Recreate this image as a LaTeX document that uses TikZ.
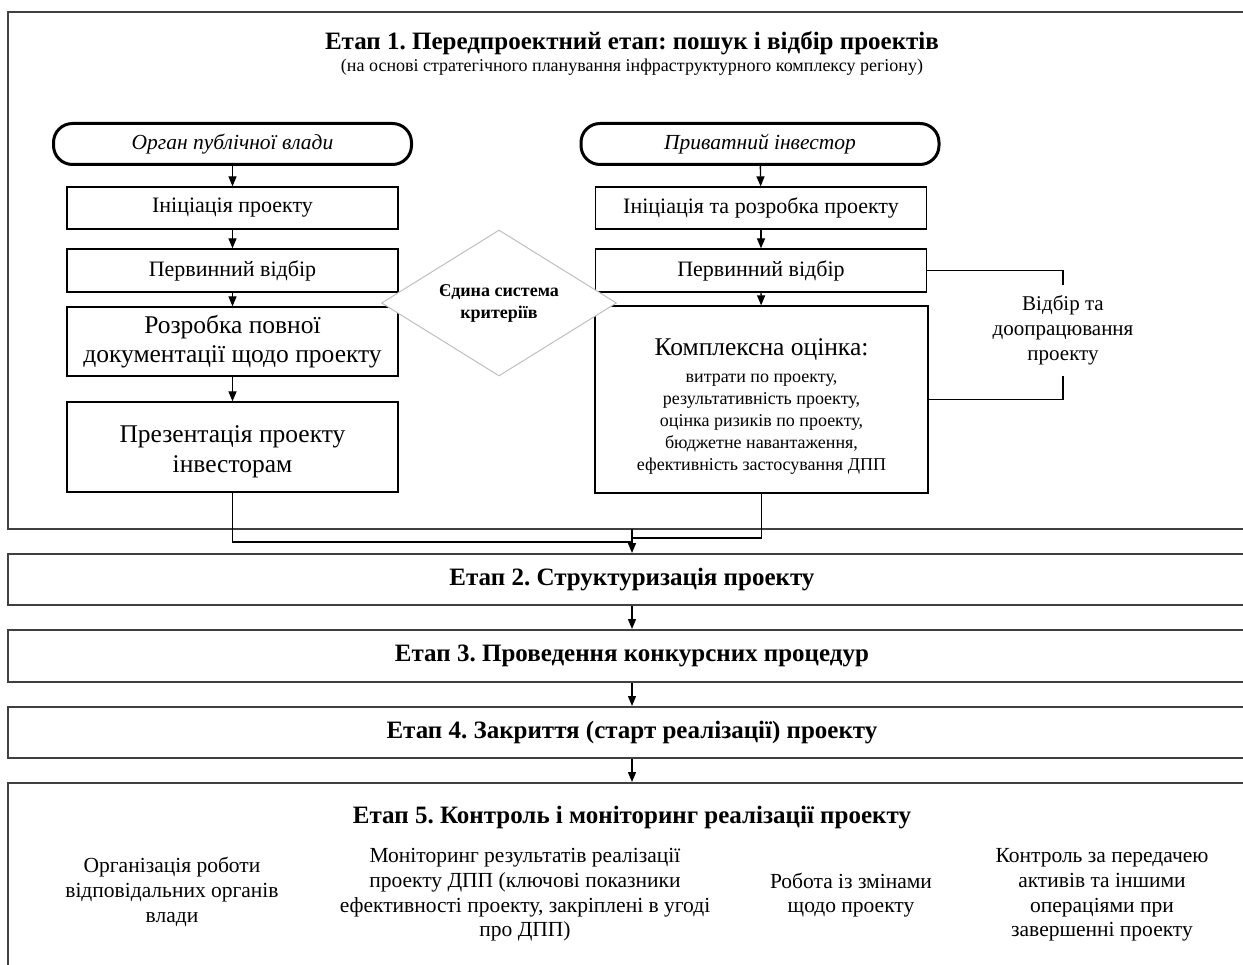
\documentclass[tikz,border=0pt]{standalone}
\usepackage{fontspec}
\setmainfont{Liberation Serif}
\usepackage{tikz}
\usetikzlibrary{arrows.meta,positioning,shapes.geometric}
\frenchspacing
\newcommand{\fs}[2]{\fontsize{#1}{#2}\selectfont}
\tikzset{
  stagebox/.style={draw=black!75,line width=2pt,minimum width=1248pt,
                   inner sep=0pt,align=center,font=\fs{25}{29}\bfseries},
  stagetitle/.style={align=center,font=\fs{25}{29}\bfseries},
  subtitle/.style={align=center,font=\fs{18}{21}},
  pill/.style={draw=black,line width=3pt,rounded corners=19pt,
               minimum width=358pt,minimum height=41pt,font=\fs{21.5}{25}\itshape},
  stepbox/.style={draw=black,line width=1.3pt,align=center,inner sep=0pt,
                  minimum width=331pt,font=\fs{22}{25}},
  bigbox/.style={stepbox,font=\fs{25.5}{29.5}},
  crit/.style={diamond,aspect=1.6,draw=black!25,fill=white,line width=1pt,
               inner sep=0pt,minimum width=235pt,minimum height=146pt,
               align=center,font=\fs{18}{22}\bfseries},
  sidenote/.style={align=center,inner sep=0pt,minimum height=91pt,
                   font=\fs{21}{25}},
  item/.style={align=center,font=\fs{21.5}{24.7}},
  flowarr/.style={-{Triangle[length=10pt,width=8pt]},line width=1.3pt},
  link/.style={line width=1.3pt}
}
\begin{document}
\begin{tikzpicture}[x=1pt,y=-1pt]
  \useasboundingbox (0,0) rectangle (1243,965);
  \clip (0,0) rectangle (1243,965);

  % stage 1
  \node[stagebox,minimum height=517pt] (st1) at (632,270.5) {};
  \node[stagetitle] (t1) at (632,43)
    {Етап 1. Передпроектний етап: пошук і відбір проектів};
  \node[subtitle] (t1sub) at (632,67)
    {(на основі стратегічного планування інфраструктурного комплексу регіону)};

  % public authority
  \node[pill] (pillL) at (232.5,144) {Орган публічної влади};
  \node[stepbox,minimum height=42pt] (initL) at (232.5,208) {Ініціація проекту};
  \node[stepbox,minimum height=43pt] (selL) at (232.5,270.5) {Первинний відбір};
  \node[bigbox,minimum height=69pt] (devL) at (232.5,341.5)
    {Розробка повної\\документації щодо проекту};
  \node[bigbox,minimum height=90pt] (presL) at (232.5,447)
    {\rule{0pt}{26pt}Презентація проекту\\інвесторам};
  \draw[flowarr] (pillL) -- (initL);
  \draw[flowarr] (initL) -- (selL);
  \draw[flowarr] (selL) -- (devL);
  \draw[flowarr] (devL) -- (presL);

  % private investor
  \node[pill] (pillR) at (760,144) {Приватний інвестор};
  \node[stepbox,minimum height=42pt] (initR) at (761,208)
    {Ініціація та розробка проекту};
  \node[stepbox,minimum height=43pt] (selR) at (761,270.5) {Первинний відбір};
  \node[stepbox,minimum width=333pt,minimum height=187pt,font=\fs{18}{22}]
    (evalR) at (761.5,399.5)
    {{\fs{25.5}{29}\rule{0pt}{30pt}Комплексна оцінка:}\\[5pt]
     витрати по проекту,\\
     результативність проекту,\\
     оцінка ризиків по проекту,\\
     бюджетне навантаження,\\
     ефективність застосування ДПП};
  \draw[flowarr] (pillR) -- (initR);
  \draw[flowarr] (initR) -- (selR);
  \draw[flowarr] (selR) -- (evalR);

  \node[crit] (crit) at (499,303) {Єдина система\\критеріїв};

  \node[sidenote] (revise) at (1063,330.5)
    {Відбір та\\доопрацювання\\проекту};
  \draw[link] (selR.east) -| (revise.north);
  \draw[link] (revise.south) |- (evalR.east);

  % stages 2-5
  \node[stagebox,minimum height=51pt] (st2) at (632,579.5)
    {Етап 2. Структуризація проекту};
  \node[stagebox,minimum height=52pt] (st3) at (632,656)
    {Етап 3. Проведення конкурсних процедур};
  \node[stagebox,minimum height=51pt] (st4) at (632,732.5)
    {Етап 4. Закриття (старт реалізації) проекту};
  \node[stagebox,minimum height=202pt] (st5) at (632,884) {};
  \node[stagetitle] (t5) at (632,818)
    {Етап 5. Контроль і моніторинг реалізації проекту};

  \coordinate (merge) at (632,529);
  \draw[link] (presL.south) -- (presL.south |- 0,542) -- (merge |- 0,542);
  \draw[link] (evalR.south) -- (evalR.south |- 0,538) -- (merge |- 0,538);
  \draw[flowarr] (merge) -- (st2.north);
  \draw[flowarr] (st2.south) -- (st3.north);
  \draw[flowarr] (st3.south) -- (st4.north);
  \draw[flowarr] (st4.south) -- (st5.north);

  \node[item] (org) at (172,892)
    {Організація роботи\\відповідальних органів\\влади};
  \node[item] (mon) at (525,895)
    {Моніторинг результатів реалізації\\проекту ДПП (ключові показники\\ефективності проекту, закріплені в угоді\\про ДПП)};
  \node[item] (chg) at (851,895) {Робота із змінами\\щодо проекту};
  \node[item] (ctl) at (1102,895)
    {Контроль за передачею\\активів та іншими\\операціями при\\завершенні проекту};
\end{tikzpicture}
\end{document}
